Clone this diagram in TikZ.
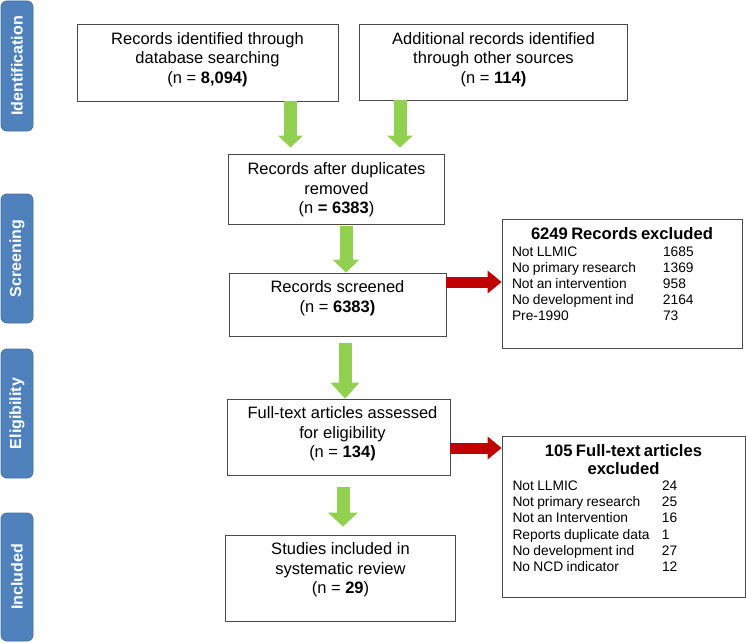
\documentclass[tikz,border=0pt]{standalone}
\usepackage{fontspec}
\setmainfont{Liberation Sans}
\usetikzlibrary{arrows.meta,calc}
\definecolor{tabblue}{HTML}{4F81BD}
\definecolor{tabedge}{HTML}{41719C}
\definecolor{arrgreen}{HTML}{92D050}
\definecolor{arrred}{HTML}{C00000}
\definecolor{boxedge}{HTML}{4A4A4A}
\newcommand\exrow[3][150pt]{\makebox[#1][l]{#2}#3\par}
\begin{document}
\begin{tikzpicture}[x=1pt,y=-1pt,
  tab/.style={draw=tabedge, line width=0.8pt, fill=tabblue, rounded corners=6pt, rotate=90,
    minimum height=32pt, inner sep=0pt, text=white, font=\bfseries\fontsize{16}{18}\selectfont},
  box/.style={draw=boxedge, line width=0.8pt, inner sep=0pt},
  mtext/.style={align=center, inner sep=0pt, font=\fontsize{16.5}{19.5}\selectfont},
  extext/.style={align=left, inner sep=0pt, anchor=north},
  garrow/.style={draw=arrgreen, line width=13pt, -{Triangle[width=26pt,length=13pt]}},
  rarrow/.style={draw=arrred, line width=11pt, -{Triangle[width=22pt,length=14pt]}}]
\useasboundingbox (0,0) rectangle (746,642);
% side tabs
\node[tab, minimum width=130pt] (tid) at (17,66) {Identification};
\node[tab, minimum width=129pt] (tsc) at (17,258.5) {Screening};
\node[tab, minimum width=129pt] (tel) at (17,413.5) {Eligibility};
\node[tab, minimum width=128pt] (tin) at (17,577) {Included};
% main boxes
\node[box, minimum width=261pt, minimum height=77pt] (b1) at (207.5,62.5) {};
\node[box, minimum width=268pt, minimum height=76pt] (b2) at (493,62) {};
\node[box, minimum width=216pt, minimum height=70pt] (b3) at (336,189) {};
\node[box, minimum width=217pt, minimum height=63pt] (b4) at (337.5,304.5) {};
\node[box, minimum width=223pt, minimum height=76pt] (b5) at (338.5,437) {};
\node[box, minimum width=230pt, minimum height=86pt] (b6) at (340,578) {};
% exclusion boxes
\node[box, minimum width=240pt, minimum height=129pt] (x1) at (622,283.5) {};
\node[box, minimum width=243pt, minimum height=161pt] (x2) at (623.5,516.5) {};
% main texts
\node[mtext] (t1) at ($(b1.center)+(0,-3)$) {Records identified through\\database searching\\(n = \textbf{8,094)}};
\node[mtext] (t2) at ($(b2.center)+(0.5,-2.5)$) {Additional records identified\\through other sources\\(n = \textbf{114)}};
\node[mtext] (t3) at ($(b3.center)+(0.5,1)$) {Records after duplicates\\removed\\(n \textbf{= 6383})};
\node[mtext] (t4) at ($(b4.center)+(0,-6.5)$) {Records screened\\(n = \textbf{6383)}};
\node[mtext] (t5) at ($(b5.center)+(4,-3)$) {Full-text articles assessed\\for eligibility\\(n = \textbf{134)}};
\node[mtext] (t6) at ($(b6.center)+(0.5,-8)$) {Studies included in\\systematic review\\(n = \textbf{29})};
% exclusion texts
\node[extext, text width=220pt] (x1t) at ($(x1.north)+(0,9)$) {%
  {\centering\bfseries\fontsize{16.6}{18}\selectfont 6249 Records excluded\par}
  \fontsize{13.8}{16}\selectfont\vspace{0.5pt}
  \exrow[151pt]{Not LLMIC}{1685}
  \exrow[151pt]{No primary research}{1369}
  \exrow[151pt]{Not an intervention}{958}
  \exrow[151pt]{No development ind}{2164}
  \exrow[151pt]{Pre-1990}{73}};
\node[extext, text width=222pt] (x2t) at ($(x2.north)+(0,9)$) {%
  {\centering\bfseries\fontsize{16.6}{18}\selectfont 105 Full-text articles\\excluded\par}
  \fontsize{13.8}{16.2}\selectfont\vspace{-0.5pt}
  \exrow[149.5pt]{Not LLMIC}{24}
  \exrow[149.5pt]{Not primary research}{25}
  \exrow[149.5pt]{Not an Intervention}{16}
  \exrow[149.5pt]{Reports duplicate data}{1}
  \exrow[149.5pt]{No development ind}{27}
  \exrow[149.5pt]{No NCD indicator}{12}};
% green arrows
\draw[garrow, shorten >=6pt, -{Triangle[width=24pt,length=12pt]}] (290.5,0 |- b1.south) -- (290.5,0 |- b3.north);
\draw[garrow, shorten >=6pt, -{Triangle[width=25pt,length=12pt]}] (400,0 |- b2.south) -- (400,0 |- b3.north);
\draw[garrow, shorten <=2pt] (346,0 |- b3.south) -- (346,0 |- b4.north);
\draw[garrow, shorten <=7pt, -{Triangle[width=28pt,length=16pt]}] (345,0 |- b4.south) -- (345,0 |- b5.north);
\draw[garrow, shorten <=12pt, shorten >=8pt, -{Triangle[width=29pt,length=14pt]}] (343,0 |- b5.south) -- (343,0 |- b6.north);
% red arrows
\draw[rarrow] ($(b4.east)+(0,-22.5)$) coordinate (r1s) -- (r1s -| x1.west);
\draw[rarrow] ($(b5.east)+(0,11)$) coordinate (r2s) -- (r2s -| x2.west);
\end{tikzpicture}
\end{document}
